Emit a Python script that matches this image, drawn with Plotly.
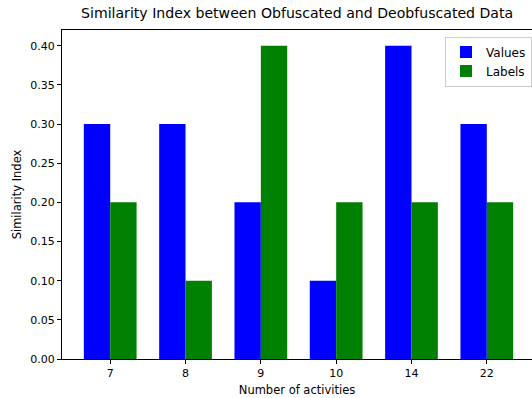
import plotly.graph_objects as go

categories = ["7", "8", "9", "10", "14", "22"]
values = [0.3, 0.3, 0.2, 0.1, 0.4, 0.3]
labels = [0.2, 0.1, 0.4, 0.2, 0.2, 0.2]

xpos = list(range(len(categories)))
w = 0.35

fig = go.Figure()
fig.add_trace(go.Bar(x=xpos, y=values, name="Values", marker=dict(color="blue", line=dict(width=0)),
                     width=w, offset=-w))
fig.add_trace(go.Bar(x=xpos, y=labels, name="Labels", marker=dict(color="green", line=dict(width=0)),
                     width=w, offset=0))

font = "DejaVu Sans, sans-serif"
fig.update_layout(
    width=532, height=398,
    margin=dict(l=62, r=0, t=30, b=39, autoexpand=False),
    paper_bgcolor="white", plot_bgcolor="white",
    font=dict(family=font, size=11, color="black"),
    title=dict(text="Similarity Index between Obfuscated and Deobfuscated Data",
               x=0.5585, xanchor="center", xref="container", y=0.967, yanchor="middle",
               font=dict(size=14.1)),
    barmode="overlay",
    showlegend=True,
    legend=dict(x=1.0, y=0.98, xanchor="right", yanchor="top",
                bgcolor="rgba(255,255,255,0.8)", bordercolor="#cccccc", borderwidth=1,
                font=dict(size=12), tracegroupgap=0),
)
fig.update_xaxes(
    range=[-0.64, 5.60], tickvals=xpos, ticktext=categories, automargin=False,
    showline=True, linecolor="black", linewidth=1, mirror=True,
    ticks="outside", ticklen=4, tickcolor="black", showgrid=False, zeroline=False,
    title=dict(text="Number of activities", font=dict(size=11.5), standoff=6),
)
fig.update_yaxes(
    range=[0, 0.42], tickvals=[i * 0.05 for i in range(9)], tickformat=".2f", automargin=False,
    showline=True, linecolor="black", linewidth=1, mirror=False,
    ticks="outside", ticklen=4, tickcolor="black", showgrid=False, zeroline=False,
    title=dict(text="Similarity Index", font=dict(size=11.5), standoff=6),
)

fig.write_html("out.html", config={"displayModeBar": False},
               post_script="document.body.style.margin='0';document.body.style.overflow='hidden';")
